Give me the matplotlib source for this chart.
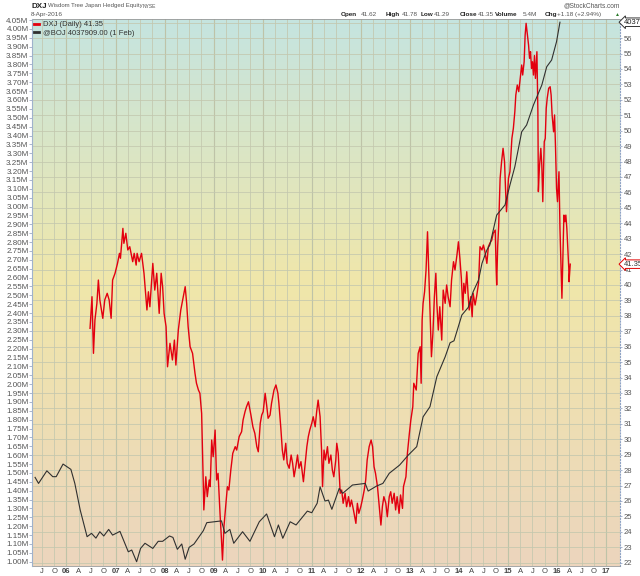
import numpy as np
import matplotlib
matplotlib.use('Agg')
import matplotlib.pyplot as plt
from matplotlib.colors import LinearSegmentedColormap
from matplotlib.transforms import blended_transform_factory

plt.rcParams['font.family'] = ['Liberation Sans', 'DejaVu Sans']

# DXJ daily close (decimal year, price)
dxj_t = [2006.48, 2006.52, 2006.55, 2006.58, 2006.62, 2006.65, 2006.68, 2006.74, 2006.78, 2006.83,
         2006.87, 2006.91, 2006.94, 2006.99, 2007.04, 2007.08, 2007.10, 2007.15, 2007.17, 2007.21,
         2007.25, 2007.29, 2007.35, 2007.38, 2007.42, 2007.44, 2007.48, 2007.53, 2007.58, 2007.64,
         2007.67, 2007.70, 2007.76, 2007.80, 2007.84, 2007.89, 2007.93, 2007.96, 2007.99, 2008.03,
         2008.06, 2008.11, 2008.16, 2008.20, 2008.23, 2008.28, 2008.33, 2008.38, 2008.42, 2008.45,
         2008.48, 2008.52, 2008.57, 2008.62, 2008.65, 2008.69, 2008.72, 2008.755, 2008.765, 2008.79,
         2008.80, 2008.84, 2008.87, 2008.91,
         2008.93, 2008.96, 2008.99, 2009.03, 2009.06, 2009.09, 2009.13, 2009.16, 2009.18, 2009.21,
         2009.25, 2009.28, 2009.31, 2009.35, 2009.39, 2009.44, 2009.47, 2009.52, 2009.57, 2009.60,
         2009.64, 2009.67, 2009.71, 2009.76, 2009.80, 2009.84, 2009.88, 2009.91, 2009.95, 2009.98,
         2010.01, 2010.05, 2010.08, 2010.11, 2010.15, 2010.18, 2010.23, 2010.27, 2010.31, 2010.33,
         2010.37, 2010.40, 2010.43, 2010.47, 2010.50, 2010.54, 2010.58, 2010.61, 2010.64, 2010.68,
         2010.71, 2010.74, 2010.78, 2010.83, 2010.86, 2010.90, 2010.93, 2010.96, 2011.00, 2011.03,
         2011.07, 2011.10, 2011.13, 2011.17, 2011.20, 2011.22, 2011.25, 2011.28, 2011.32, 2011.35,
         2011.39, 2011.42, 2011.45, 2011.49, 2011.51, 2011.54, 2011.58, 2011.61, 2011.64, 2011.68,
         2011.71, 2011.75, 2011.78, 2011.81, 2011.85, 2011.90, 2011.93, 2011.96, 2012.00, 2012.03,
         2012.07, 2012.10, 2012.13, 2012.17, 2012.21, 2012.24, 2012.27, 2012.30, 2012.34, 2012.37,
         2012.41, 2012.44, 2012.47, 2012.51, 2012.54, 2012.58, 2012.61, 2012.64, 2012.68, 2012.71,
         2012.74, 2012.78, 2012.81, 2012.85,
         2012.87, 2012.92, 2012.95, 2012.99, 2013.02, 2013.06, 2013.08, 2013.13, 2013.17, 2013.21,
         2013.23, 2013.25, 2013.27, 2013.30, 2013.33, 2013.36, 2013.38, 2013.41, 2013.44, 2013.47,
         2013.50, 2013.53, 2013.55, 2013.58, 2013.61, 2013.65, 2013.68, 2013.72, 2013.75, 2013.78,
         2013.82, 2013.85, 2013.89, 2013.92, 2013.96, 2013.99, 2014.02, 2014.05, 2014.08, 2014.10,
         2014.13, 2014.16, 2014.19, 2014.21, 2014.24, 2014.27, 2014.29, 2014.33, 2014.36, 2014.40,
         2014.43, 2014.47, 2014.50, 2014.53, 2014.57, 2014.60, 2014.63, 2014.67, 2014.70, 2014.74,
         2014.76, 2014.77, 2014.79, 2014.81,
         2014.84, 2014.87, 2014.90, 2014.93, 2014.95, 2014.97, 2015.01, 2015.04, 2015.08, 2015.11,
         2015.14, 2015.16, 2015.19, 2015.22, 2015.25, 2015.28, 2015.30, 2015.33, 2015.35, 2015.37,
         2015.39, 2015.42, 2015.44, 2015.46, 2015.48, 2015.50, 2015.52, 2015.54, 2015.56, 2015.59,
         2015.61, 2015.62, 2015.64, 2015.67, 2015.69, 2015.71, 2015.74, 2015.76, 2015.78, 2015.80,
         2015.83, 2015.86, 2015.88, 2015.90, 2015.93, 2015.95, 2015.97, 2015.99, 2016.01, 2016.04,
         2016.06, 2016.08, 2016.10, 2016.12, 2016.14, 2016.16, 2016.18, 2016.20, 2016.22, 2016.24,
         2016.245, 2016.27]
dxj_px = [37.19, 39.24, 35.57, 37.73, 38.81, 40.32, 39.03, 37.84, 39.03, 39.46,
          39.03, 37.84, 40.32, 40.76, 41.40, 42.05, 41.73, 43.67, 42.70, 43.35,
          42.27, 42.48, 41.51, 42.05, 41.29, 42.05, 41.51, 42.05, 40.76, 38.38,
          39.56, 38.59, 41.40, 39.67, 40.76, 38.16, 40.76, 39.89, 38.16, 37.30,
          34.70, 36.22, 35.14, 36.43, 34.81, 37.08, 38.38, 39.24, 39.89, 38.81,
          37.30, 36.00, 35.57, 34.27, 33.63, 33.19, 32.98, 31.68, 30.38, 26.93,
          25.42, 27.57, 26.28, 27.36,
          26.93, 29.95, 28.87, 30.60, 27.36, 27.79, 25.20, 23.47, 22.17, 24.33,
          25.85, 26.93, 26.71, 28.01, 29.09, 29.52, 29.30, 30.17, 30.49, 31.25,
          31.79, 32.11, 32.43, 31.57, 30.81, 30.38, 29.52, 29.19, 31.03, 31.57,
          31.79, 32.98, 32.22, 31.36, 31.57, 32.33, 33.19, 33.52, 32.98, 32.33,
          30.71, 29.30, 28.66, 29.74, 28.44, 28.12, 28.98, 28.44, 27.57, 28.33,
          28.98, 28.12, 28.55, 27.25, 28.22, 29.52, 30.17, 30.60, 31.03, 31.46,
          30.81, 31.79, 32.54, 31.46, 29.30, 26.93, 29.30, 28.66, 29.52, 28.44,
          28.98, 28.01, 27.57, 28.66, 29.74, 29.09, 26.50, 26.71, 25.85, 26.50,
          25.63, 26.28, 25.63, 26.06, 25.42, 24.55, 25.85, 25.20, 25.63, 26.06,
          26.71, 27.36, 28.66, 29.52, 29.95, 29.52, 28.22, 27.79, 26.93, 25.85,
          24.44, 25.63, 26.28, 25.85, 24.98, 26.28, 26.60, 25.85, 26.50, 25.42,
          26.28, 25.20, 26.39, 25.52,
          26.93, 27.57, 29.09, 30.38, 31.25, 32.11, 33.63, 33.19, 35.57, 36.00,
          33.63, 37.73, 38.81, 39.56, 40.97, 43.45, 41.40, 38.16, 35.35, 36.87,
          39.24, 40.76, 38.81, 37.08, 38.59, 36.43, 39.67, 38.81, 40.00, 39.24,
          38.59, 40.32, 41.51, 40.97, 41.94, 42.80, 41.73, 40.43, 38.38, 40.11,
          39.46, 40.86, 39.24, 38.38, 39.24, 37.94, 39.46, 38.70, 39.24, 40.11,
          42.48, 42.27, 42.59, 42.16, 41.40, 42.48, 42.70, 42.91, 43.35, 43.56,
          40.97, 40.00, 42.48, 43.78,
          46.91, 47.99, 48.86, 47.99, 46.26, 44.75, 46.91, 47.34, 49.50, 50.15,
          51.23, 52.31, 52.96, 52.53, 53.39, 54.26, 53.61, 54.47, 56.20, 56.96,
          56.41, 55.55, 54.69, 55.12, 54.04, 54.47, 53.61, 54.87, 53.39, 55.12,
          51.23, 46.05, 47.56, 48.86, 47.77, 45.40, 49.29, 49.50, 51.44, 52.10,
          52.75, 52.85, 52.31, 51.02, 49.93, 51.02, 48.86, 46.26, 45.40, 47.34,
          43.67, 41.51, 39.14, 41.94, 44.53, 44.10, 44.53, 43.67, 42.38, 41.08,
          40.21, 41.35]

# BOJ monetary base, millions (decimal year, value)
boj_t = [2005.36, 2005.43, 2005.60, 2005.72, 2005.79, 2005.93, 2006.09, 2006.17, 2006.28, 2006.42,
         2006.51, 2006.60, 2006.68, 2006.76, 2006.86, 2006.94, 2007.09, 2007.26, 2007.33, 2007.43,
         2007.51, 2007.60, 2007.76, 2007.87, 2007.96, 2008.10, 2008.17, 2008.26, 2008.35, 2008.42,
         2008.50, 2008.60, 2008.79, 2008.86, 2009.16, 2009.23, 2009.33, 2009.41, 2009.59, 2009.74,
         2009.93, 2010.08, 2010.24, 2010.32, 2010.41, 2010.56, 2010.68, 2010.91, 2011.00, 2011.11,
         2011.17, 2011.27, 2011.34, 2011.41, 2011.56, 2011.63, 2011.83, 2012.09, 2012.15, 2012.32,
         2012.45, 2012.58, 2012.79, 2012.97, 2013.14, 2013.27, 2013.41, 2013.55, 2013.72, 2013.82,
         2013.90, 2014.06, 2014.19, 2014.29, 2014.40, 2014.47, 2014.57, 2014.63, 2014.77, 2014.94,
         2015.04, 2015.14, 2015.28, 2015.38, 2015.52, 2015.69, 2015.79, 2015.89, 2015.99, 2016.06]
boj_m = [1.475, 1.441, 1.512, 1.479, 1.479, 1.550, 1.520, 1.441, 1.291, 1.141,
         1.160, 1.133, 1.169, 1.145, 1.182, 1.150, 1.171, 1.056, 1.066, 1.000,
         1.075, 1.104, 1.075, 1.115, 1.115, 1.145, 1.137, 1.070, 1.100, 1.014,
         1.081, 1.100, 1.175, 1.220, 1.230, 1.160, 1.182, 1.104, 1.169, 1.115,
         1.225, 1.269, 1.141, 1.207, 1.132, 1.225, 1.207, 1.285, 1.276, 1.329,
         1.422, 1.342, 1.347, 1.295, 1.413, 1.385, 1.432, 1.441, 1.398, 1.426,
         1.441, 1.498, 1.544, 1.601, 1.648, 1.816, 1.873, 2.042, 2.154, 2.233,
         2.244, 2.389, 2.432, 2.520, 2.586, 2.680, 2.755, 2.783, 2.952, 3.009,
         3.121, 3.224, 3.421, 3.459, 3.572, 3.684, 3.787, 3.825, 3.928, 4.038]

# quarterly x ticks
quarter_ticks = [2005.5, 2005.75] + [y + q for y in range(2006, 2017) for q in (0, 0.25, 0.5, 0.75)] + [2017.0]
qnames = {0.25: 'A', 0.5: 'J', 0.75: 'O'}
quarter_labels = []
for t in quarter_ticks:
    frac = round(t - int(t), 2)
    quarter_labels.append('%02d' % (int(t) % 100) if frac == 0 else qnames[frac])

left_ticks = np.round(np.arange(1.0, 4.051, 0.05), 2)
right_ticks = list(range(22, 58))

fig = plt.figure(figsize=(6.4, 5.76), dpi=100)
ax = fig.add_axes([32/640, 10/576, 588/640, 547/576])

# background gradient
cmap = LinearSegmentedColormap.from_list('bg', [(0, '#ecd5bd'), (0.52, '#f0e7aa'), (1, '#c5e4e0')])
grad = np.linspace(0, 1, 256).reshape(-1, 1)
ax.imshow(grad, extent=[0, 1, 0, 1], transform=ax.transAxes, aspect='auto',
          cmap=cmap, origin='lower', zorder=0)

ax.plot(dxj_t, dxj_px, color='#e3000f', lw=1.0, zorder=3)
ax.set_xlim(2005.297, 2017.284)
ax.set_ylim(21.786, 57.24)

axb = ax.twinx()
axb.plot(boj_t, boj_m, color='#303030', lw=0.8, zorder=4)
axb.set_ylim(0.976, 4.056)

# twinx moves the main ticks to the left, so put them back
ax.yaxis.tick_right()
ax.set_yticks(right_ticks)
# top label sits under the BOJ value tag
ax.set_yticklabels([str(v) if v < 57 else '' for v in right_ticks])
ax.set_xticks(quarter_ticks)
ax.set_xticklabels(quarter_labels)
for lab, t in zip(ax.get_xticklabels(), quarter_ticks):
    if t == int(t):
        lab.set_fontweight('bold')
ax.grid(True, color='#c3c7ae', lw=0.55)
for t in quarter_ticks:
    if t == int(t):
        ax.axvline(t, color='#b0b698', lw=0.8, zorder=1)
ax.tick_params(axis='y', labelsize=5.5, labelcolor='#555555', length=1.5, width=0.5,
               color='#8899bb', pad=1)
ax.tick_params(axis='x', labelsize=5.5, labelcolor='#444444', length=0, pad=1.5)
ax.spines['left'].set_visible(False)
ax.spines['right'].set_color('#8fa3c4')
ax.spines['right'].set_linestyle(':')
ax.spines['right'].set_linewidth(0.8)
ax.spines['top'].set_color('#999999')
ax.spines['top'].set_linewidth(0.6)
ax.spines['bottom'].set_color('#999999')
ax.spines['bottom'].set_linewidth(0.6)

axb.yaxis.tick_left()
axb.set_yticks(left_ticks)
axb.set_yticklabels(['%.2fM' % v for v in left_ticks])
axb.tick_params(axis='y', labelsize=5.8, labelcolor='#555555', length=2, width=0.5,
                color='#8899bb', pad=0.5)
for s in ('right', 'top', 'bottom'):
    axb.spines[s].set_visible(False)
axb.spines['left'].set_color('#9fb2cc')
axb.spines['left'].set_linewidth(0.8)

# value tags on the right
tr = blended_transform_factory(ax.transAxes, ax.transData)
ax.text(1.006, dxj_px[-1], '%.2f' % dxj_px[-1], transform=tr, fontsize=5.5, color='#333333',
        va='center', ha='left', clip_on=False, zorder=6,
        bbox=dict(boxstyle='larrow,pad=0.1', fc='white', ec='#e00000', lw=0.7))
trb = blended_transform_factory(axb.transAxes, axb.transData)
axb.text(1.006, 4.037909, '4037909', transform=trb, fontsize=5.5, color='#222222',
         va='center', ha='left', clip_on=False, zorder=6,
         bbox=dict(boxstyle='larrow,pad=0.1', fc='white', ec='#333333', lw=0.7))

# legend
h1, = ax.plot([], [], color='#e3000f', lw=2)
h2, = axb.plot([], [], color='#303030', lw=2)
axb.legend([h1, h2], ['DXJ (Daily) 41.35', '@BOJ 4037909.00 (1 Feb)'], loc='upper left',
           frameon=False, fontsize=5.5, handlelength=0.7, handletextpad=0.5,
           labelspacing=0.15, borderaxespad=0.15, borderpad=0.1, labelcolor='#333333')

# header
H = 576.0
def fy(p):
    return 1 - p / H

fig.text(31/640, fy(6), 'DXJ', fontsize=5.8, fontweight='bold', color='#222222', va='center')
fig.text(48/640, fy(6), 'Wisdom Tree Japan Hedged Equity', fontsize=4.3, color='#555555', va='center')
fig.text(143/640, fy(6.5), 'NYSE', fontsize=3.6, color='#555555', va='center')
fig.text(31/640, fy(14.5), '8-Apr-2016', fontsize=4.6, color='#555555', va='center')
fig.text(620/640, fy(6), '@StockCharts.com', fontsize=4.7, color='#555555', va='center', ha='right')

header = [('Open', 340.7, True), ('41.62', 360.7, False), ('High', 386, True), ('41.78', 401.7, False),
          ('Low', 420.7, True), ('41.29', 434.3, False), ('Close', 459.3, True), ('41.35', 478, False),
          ('Volume', 494.5, True), ('5.4M', 522.3, False), ('Chg', 544.3, True),
          ('+1.18 (+2.94%)', 556.7, False)]
for txt, xp, bold in header:
    fig.text(xp/640, fy(14.7), txt, fontsize=4.6, va='center',
             fontweight='bold' if bold else 'normal', color='#222222' if bold else '#555555')
fig.text(615/640, fy(14.7), '\u25b2', fontsize=3.6, color='#2a7a2a', va='center')

fig.savefig('out.png', dpi=100)
